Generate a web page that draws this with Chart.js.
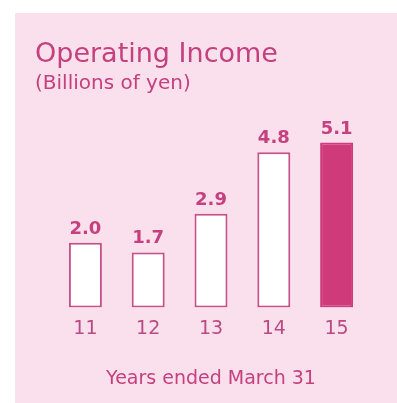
<!DOCTYPE html>
<html>
<head>
<meta charset="utf-8">
<script src="https://cdn.jsdelivr.net/npm/chart.js@4/dist/chart.umd.min.js"></script>
<style>
  html, body { margin: 0; padding: 0; background: #ffffff; }
  #wrap { position: relative; width: 397px; height: 403px; }
  canvas { display: block; }
</style>
</head>
<body>
<div id="wrap"><canvas id="c" width="397" height="403"></canvas></div>
<script>
// Fiscal years (years ended March 31) and operating income, billions of yen
const years = ['11', '12', '13', '14', '15'];
const operatingIncome = [2.0, 1.7, 2.9, 4.8, 5.1];
const highlightYear = '15';

const ink = '#c4407f';
const tickInk = '#b94a83';
const barEdge = '#c8508a';
const barHighlight = '#cf3a7b';
const panelPink = '#f9e0ec';

// Pink panel behind the whole chart
const panelPlugin = {
  id: 'panel',
  beforeDraw(chart) {
    const ctx = chart.ctx;
    ctx.save();
    ctx.fillStyle = panelPink;
    ctx.fillRect(15, 13, chart.width - 15, chart.height - 13);
    ctx.restore();
  }
};

// Value written above each bar
const valueLabels = {
  id: 'valueLabels',
  afterDatasetsDraw(chart) {
    const ctx = chart.ctx;
    const meta = chart.getDatasetMeta(0);
    ctx.save();
    ctx.font = 'bold 18px "DejaVu Sans", Verdana, sans-serif';
    ctx.fillStyle = ink;
    ctx.textAlign = 'center';
    ctx.textBaseline = 'alphabetic';
    meta.data.forEach((bar, i) => {
      const v = chart.data.datasets[0].data[i];
      ctx.fillText(v.toFixed(1), bar.x, bar.y - 9);
    });
    ctx.restore();
  }
};

new Chart(document.getElementById('c'), {
  type: 'bar',
  data: {
    labels: years,
    datasets: [{
      data: operatingIncome,
      backgroundColor: years.map(y => y === highlightYear ? barHighlight : '#ffffff'),
      borderColor: years.map(y => y === highlightYear ? barHighlight : barEdge),
      borderWidth: 2,
      borderSkipped: false,
      categoryPercentage: 1.0,
      barPercentage: 0.525
    }]
  },
  options: {
    responsive: false,
    animation: false,
    events: [],
    layout: { padding: { left: 35, right: 29, top: 39, bottom: 13 } },
    plugins: {
      legend: { display: false },
      tooltip: { enabled: false },
      title: {
        display: true,
        text: 'Operating Income',
        align: 'start',
        color: ink,
        font: { family: '"DejaVu Sans", Verdana, sans-serif', size: 27, weight: 'normal' },
        padding: { top: 0, bottom: 0 }
      },
      subtitle: {
        display: true,
        text: '(Billions of yen)',
        align: 'start',
        color: ink,
        font: { family: '"DejaVu Sans", Verdana, sans-serif', size: 20, weight: 'normal' },
        padding: { top: 0, bottom: 18 }
      }
    },
    scales: {
      x: {
        grid: { display: false },
        border: { display: false },
        ticks: {
          color: tickInk,
          padding: 2,
          font: { family: '"DejaVu Sans", Verdana, sans-serif', size: 19 }
        },
        title: {
          display: true,
          text: 'Years ended March 31',
          color: ink,
          padding: { top: 25, bottom: 0 },
          font: { family: '"DejaVu Sans", Verdana, sans-serif', size: 19 }
        }
      },
      y: {
        min: 0,
        max: 6,
        grid: { display: false },
        border: { display: false },
        ticks: { display: false },
        afterFit(scale) { scale.width = 19; }
      }
    }
  },
  plugins: [panelPlugin, valueLabels]
});
</script>
</body>
</html>
